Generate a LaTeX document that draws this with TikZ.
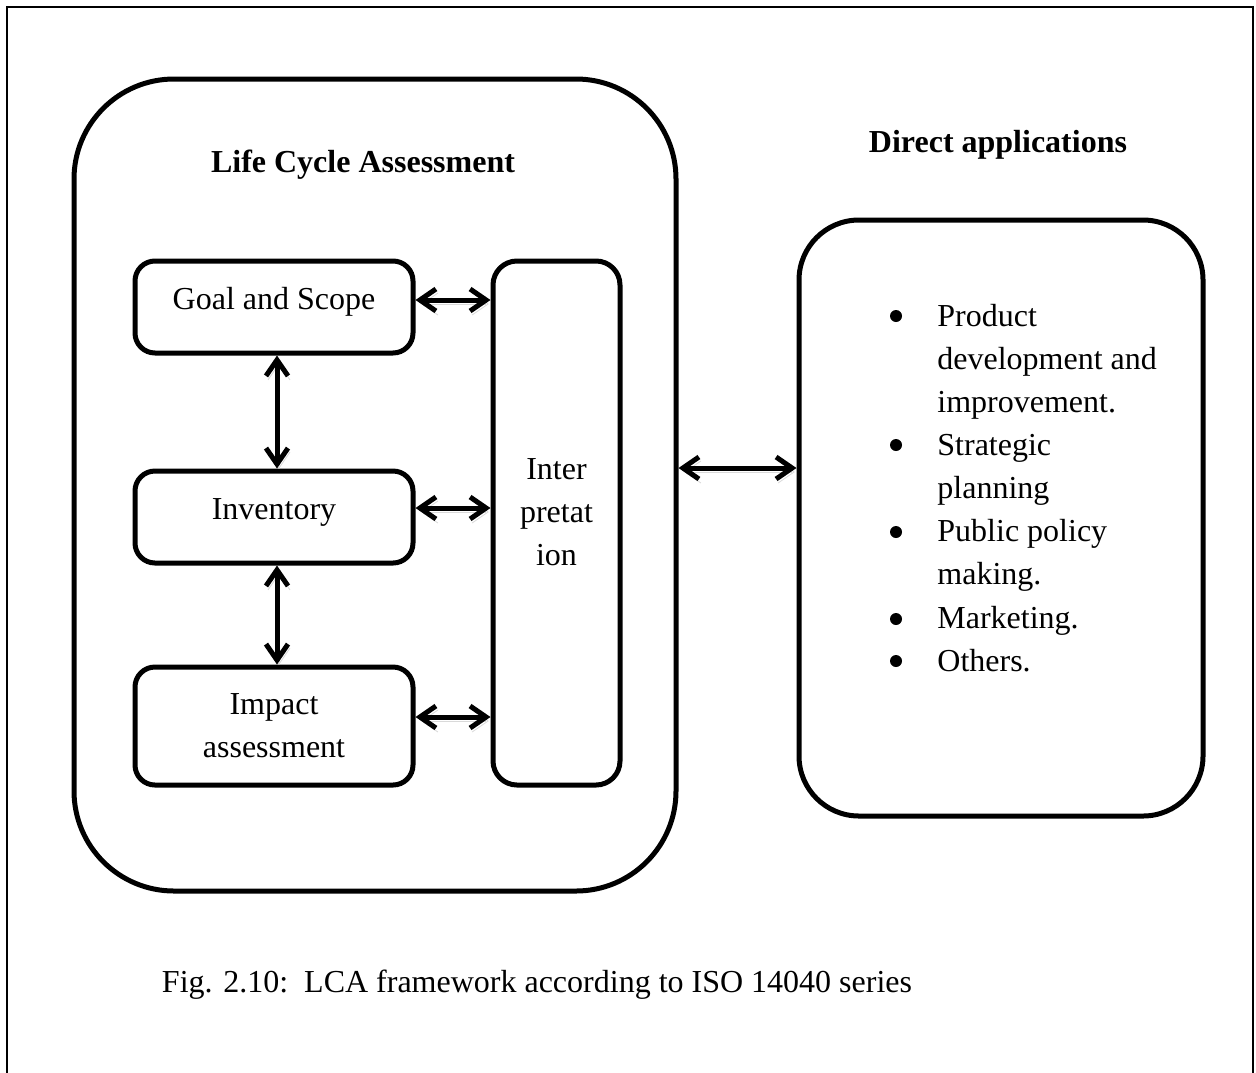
\documentclass[tikz,border=0pt]{standalone}
\usepackage{fontspec}
\setmainfont{Liberation Serif}
\usetikzlibrary{arrows.meta}
\begin{document}
\begin{tikzpicture}[x=0.5pt,y=-0.5pt,
  every node/.style={font=\fontsize{16}{21.5}\selectfont},
  box/.style={draw, line width=2.5pt, rounded corners=10pt, inner sep=0pt, align=center},
  arr/.style={line width=2.5pt, {Straight Barb[length=8pt,width=11pt]}-{Straight Barb[length=8pt,width=11pt]},
    preaction={draw=black!15, transform canvas={shift={(1pt,-2pt)}}}},
  ttl/.style={font=\fontsize{16}{21.5}\selectfont\bfseries},
  item/.style={anchor=base west, align=left, inner sep=0pt},
  bul/.style={circle, fill, inner sep=0pt, minimum size=6pt}
]
\useasboundingbox (0,0) rectangle (1256,1072);
\draw[line width=1pt] (7,1100) -- (7,7) -- (1253,7) -- (1253,1100);

% big boxes
\node[draw, line width=2.5pt, rounded corners=50pt, minimum width=301pt, minimum height=406pt, inner sep=0pt] (lca) at (375,485) {};
\node[draw, line width=2.5pt, rounded corners=30pt, minimum width=202pt, minimum height=298pt, inner sep=0pt] (app) at (1001,518) {};

\node[ttl] (lcat) at (363,165) {Life Cycle Assessment};
\node[ttl] (appt) at (998,145) {Direct applications};

% inner boxes
\node[box, minimum width=139pt, minimum height=46pt, text depth=9pt] (goal) at (274,307) {Goal and Scope};
\node[box, minimum width=139pt, minimum height=46pt, text depth=8pt] (inv) at (274,517) {Inventory};
\node[box, minimum width=139pt, minimum height=59pt] (imp) at (274,726) {Impact\\assessment};
\node[box, rounded corners=12pt, minimum width=63.5pt, minimum height=262pt, text depth=11pt] (int) at (556.5,523) {Inter\\pretat\\ion};

% arrows
\draw[arr] (goal.east |- 0,300) -- (int.west |- 0,300);
\draw[arr] (inv.east |- 0,508) -- (int.west |- 0,508);
\draw[arr] (imp.east |- 0,717) -- (int.west |- 0,717);
\draw[arr] (goal.south -| 277,0) -- (inv.north -| 277,0);
\draw[arr] (inv.south -| 277,0) -- (imp.north -| 277,0);
\draw[arr] (lca.east |- 0,468) -- (app.west |- 0,468);

% list
\node[bul] (b1) at (896,316) {};
\node[item] (i1) at (937,412) {Product\\development and\\improvement.};
\node[bul] (b2) at (896,445) {};
\node[item] (i2) at (937,498) {Strategic\\planning};
\node[bul] (b3) at (896,532) {};
\node[item] (i3) at (937,584) {Public policy\\making.};
\node[bul] (b4) at (896,619) {};
\node[item] (i4) at (937,628) {Marketing.};
\node[bul] (b5) at (896,661) {};
\node[item] (i5) at (937,671) {Others.};

\node (cap) at (537,985) {Fig. 2.10:\ \ LCA framework according to ISO 14040 series};
\end{tikzpicture}
\end{document}
